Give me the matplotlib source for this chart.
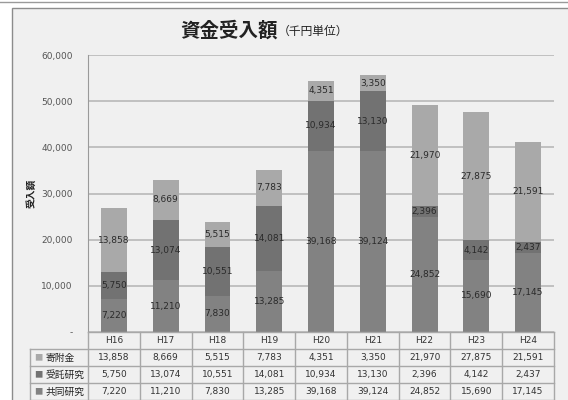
import numpy as np
import matplotlib.pyplot as plt
from matplotlib.patches import Rectangle

plt.rcParams['font.family'] = ['Noto Sans CJK JP', 'DejaVu Sans']

years = ['H16', 'H17', 'H18', 'H19', 'H20', 'H21', 'H22', 'H23', 'H24']
kyodo = [7220, 11210, 7830, 13285, 39168, 39124, 24852, 15690, 17145]
jutaku = [5750, 13074, 10551, 14081, 10934, 13130, 2396, 4142, 2437]
kifu = [13858, 8669, 5515, 7783, 4351, 3350, 21970, 27875, 21591]
names = ['寄附金', '受託研究', '共同研究']
colors = {'共同研究': '#828282', '受託研究': '#727272', '寄附金': '#a9a9a9'}

bg = '#f0f0f0'
fig = plt.figure(figsize=(5.68, 4.0), dpi=100)
fig.patch.set_facecolor('white')
fig.add_artist(Rectangle((12 / 568, -0.01), 0.99, 1 - 8 / 400 + 0.01, transform=fig.transFigure,
                         facecolor=bg, edgecolor='#8c8c8c', lw=1.0, zorder=-10))
fig.add_artist(plt.Line2D([0, 1], [1 - 2 / 400] * 2, color='#9a9a9a', lw=1.0, zorder=-10))

ax = fig.add_axes([88 / 568, 1 - 332 / 400, (554 - 88) / 568, (332 - 55) / 400])
ax.set_facecolor(bg)
x = np.arange(len(years))
w = 0.5
bottoms = np.zeros(len(years))
for name, vals in [('共同研究', kyodo), ('受託研究', jutaku), ('寄附金', kifu)]:
    vals = np.array(vals)
    ax.bar(x, vals, w, bottom=bottoms, color=colors[name], edgecolor='none', zorder=3)
    for xi, b, v in zip(x, bottoms, vals):
        ax.text(xi, b + v / 2, f'{v:,}', ha='center', va='center', fontsize=6.5,
                color='#2a2a2a', zorder=4, family=['DejaVu Sans'])
    bottoms += vals

ax.set_xlim(-0.5, len(years) - 0.5)
ax.set_ylim(0, 60000)
ax.set_yticks(range(0, 60001, 10000))
ax.set_yticklabels(['-'] + [f'{v:,}' for v in range(10000, 60001, 10000)],
                   fontsize=6.5, color='#555555', family=['DejaVu Sans'])
ax.tick_params(axis='y', length=0, pad=11)
ax.set_xticks([])
ax.grid(axis='y', color='#bdbdbd', lw=1.3, zorder=0)
for s in ['top', 'right', 'bottom']:
    ax.spines[s].set_visible(False)
ax.spines['left'].set_color('#9a9a9a')
ax.set_ylabel('受入額', fontsize=7, fontweight='bold', color='#222222')
ax.yaxis.set_label_coords(-0.11, 0.5)

fig.text(278 / 568, 1 - 31 / 400, '資金受入額', fontsize=14, fontweight='bold',
         ha='right', va='center', color='#222222')
fig.text(278 / 568, 1 - 31 / 400, '（千円単位）', fontsize=8.5, ha='left', va='center', color='#222222')

# data table
tab = fig.add_axes([88 / 568, 0, (554 - 88) / 568, 68 / 400])
tab.set_xlim(-0.5, len(years) - 0.5)
tab.set_ylim(0, 4)
tab.axis('off')
lc = '#a8a8a8'
lab_left = -0.5 - 58 / 51.8
for yy in [4, 3]:
    tab.plot([-0.5 if yy == 4 else lab_left, len(years) - 0.5], [yy, yy], color=lc, lw=1, clip_on=False)
for yy in [2, 1, 0]:
    tab.plot([lab_left, len(years) - 0.5], [yy, yy], color=lc, lw=1, clip_on=False)
for xx in np.arange(-0.5, len(years), 1.0):
    tab.plot([xx, xx], [0, 4], color=lc, lw=1, clip_on=False)
tab.plot([lab_left, lab_left], [0, 3], color=lc, lw=1, clip_on=False)

for xi, yr in zip(x, years):
    tab.text(xi, 3.5, yr, ha='center', va='center', fontsize=6.5, color='#333333', family=['DejaVu Sans'])
rows = [('寄附金', kifu), ('受託研究', jutaku), ('共同研究', kyodo)]
for r, (name, vals) in enumerate(rows):
    yy = 2.5 - r
    tab.text(lab_left + 0.08, yy, '■', ha='left', va='center', fontsize=6, color=colors[name], clip_on=False)
    tab.text(lab_left + 0.3, yy, name, ha='left', va='center', fontsize=7, color='#222222', clip_on=False)
    for xi, v in zip(x, vals):
        tab.text(xi, yy, f'{v:,}', ha='center', va='center', fontsize=6.5, color='#333333',
                 family=['DejaVu Sans'])

fig.savefig('out.png', dpi=100, facecolor=fig.get_facecolor())
